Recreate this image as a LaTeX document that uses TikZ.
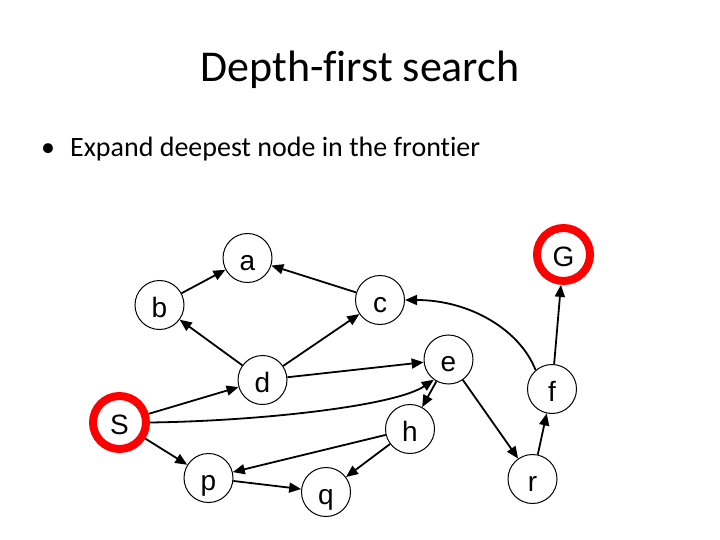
\documentclass[tikz,border=0pt]{standalone}
\usepackage{fontspec}
\setmainfont[Ligatures=NoCommon]{Carlito}
\newfontfamily\arialf{Liberation Sans}
\usetikzlibrary{arrows.meta}
\begin{document}
\begin{tikzpicture}[x=1pt,y=-1pt,
  vtx/.style={circle,draw=black,line width=1pt,minimum size=49pt,inner sep=0pt,text height=24pt,text depth=0pt,font=\arialf\fontsize{28}{28}\selectfont},
  goal/.style={vtx,draw=red,line width=8pt,minimum size=53pt,outer sep=4pt},
  edge/.style={line width=1.8pt,-{Triangle[length=12pt,width=10pt]}}]
\useasboundingbox (0,0) rectangle (720,540);
\node[anchor=base] (title) at (360,82) {\fontsize{44}{52}\selectfont Depth-first search};
\node[anchor=base,inner sep=0pt] (bul) at (48,157) {\fontsize{28}{32}\selectfont •};
\node[anchor=base west,inner sep=0pt] (txt) at (70,157) {\fontsize{28}{32}\selectfont Expand deepest node in the frontier};
\node[vtx] (a) at (247.5,258) {a};
\node[vtx] (b) at (159.5,305) {b};
\node[vtx] (c) at (380,300) {c};
\node[vtx] (d) at (262.5,380) {d};
\node[vtx] (e) at (448.5,359.5) {e};
\node[vtx] (f) at (552,389) {f};
\node[goal] (G) at (563.5,254.5) {G};
\node[goal] (S) at (119.5,422.5) {S};
\node[vtx] (h) at (410,429) {h};
\node[vtx] (p) at (208.5,478) {p};
\node[vtx] (q) at (326,492) {q};
\node[vtx] (r) at (532.5,479) {r};
\draw[edge] (b) -- (a);
\draw[edge] (c) -- (a);
\draw[edge] (d) -- (b);
\draw[edge] (d) -- (c);
\draw[edge] (S) -- (d);
\draw[edge] (d) -- (e);
\draw[edge] (S.east) .. controls (260,421) and (395,406) .. (e.234);
\draw[edge] (e) -- (h);
\draw[edge] (e) -- (r);
\draw[edge] (r) -- (f);
\draw[edge] (f) -- (G);
\draw[edge] (f.131) .. controls (520,330) and (470,300) .. (c.east);
\draw[edge] (h) -- (p);
\draw[edge] (h) -- (q);
\draw[edge] (S) -- (p);
\draw[edge] (p) -- (q);
\end{tikzpicture}
\end{document}
